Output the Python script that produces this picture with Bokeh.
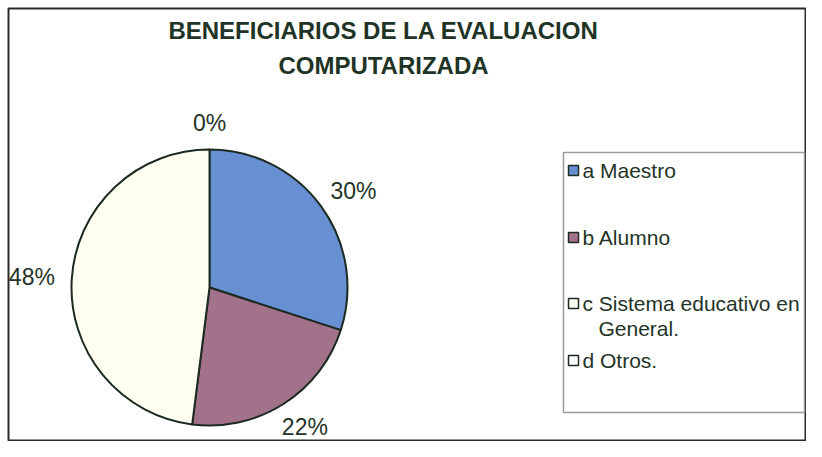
import math
from bokeh.plotting import figure
from bokeh.models import ColumnDataSource, Range1d
from bokeh.core.properties import value
from bokeh.embed import file_html
from bokeh.resources import INLINE

# ---- data ----
title_lines = ["BENEFICIARIOS DE LA EVALUACION", "COMPUTARIZADA"]
categories = ["a Maestro", "b Alumno", "c Sistema educativo en\nGeneral.", "d Otros."]
percents = [30, 22, 48, 0]
colors = ["#6690d2", "#a2728a", "#fffff2", "#ffffff"]

# ---- layout (pixels, 1 data unit = 1 px, pie centre at 0,0) ----
W, H = 806, 441
cx_page, cy_page = 209, 287          # pie centre in picture pixels
R = 138
TXT = "#1f3326"
FONT = value("Liberation Sans")

p = figure(width=W, height=H, output_backend="svg", toolbar_location=None,
           x_range=Range1d(-cx_page, W - cx_page), y_range=Range1d(-(H - cy_page), cy_page),
           min_border=0, tools="")
p.axis.visible = False
p.grid.visible = False
p.outline_line_color = None
p.background_fill_color = "white"
p.border_fill_color = "white"

# chart border
p.quad(left=8 - cx_page, right=W - 1 - cx_page, top=cy_page - 8, bottom=cy_page - (H - 1),
       fill_color=None, line_color="#2a2a2a", line_width=2)

# ---- pie ----
total = float(sum(percents))
starts, ends, fr = [], [], []
cum = 0.0
for v in percents:
    f = v / total
    starts.append(math.pi / 2 - cum * 2 * math.pi)
    ends.append(math.pi / 2 - (cum + f) * 2 * math.pi)
    fr.append((cum, f))
    cum += f

idx = [i for i, v in enumerate(percents) if v > 0]
src = ColumnDataSource(dict(
    start=[starts[i] for i in idx], end=[ends[i] for i in idx],
    color=[colors[i] for i in idx]))
p.wedge(x=0, y=0, radius=R, start_angle="start", end_angle="end", direction="clock",
        fill_color="color", line_color="#1c2a22", line_width=2, source=src)

# ---- percentage labels ----
lx, ly, lt = [], [], []
half_w, half_h, gap_r = 23, 10, R + 17
for (c0, f), v in zip(fr, percents):
    a = (c0 + f / 2) * 2 * math.pi        # clockwise from top
    dx, dy = math.sin(a), math.cos(a)
    lx.append(gap_r * dx + half_w * dx)
    ly.append(gap_r * dy + half_h * dy)
    lt.append(f"{v}%")
p.text(x=lx, y=ly, text=lt, text_align="center", text_baseline="middle",
       text_font=FONT, text_font_size="23px", text_color=TXT)

# ---- title ----
p.text(x=[383 - cx_page] * 2, y=[cy_page - 30, cy_page - 65], text=title_lines,
       text_align="center", text_baseline="middle", text_font=FONT,
       text_font_size="24px", text_font_style="bold", text_color=TXT)

# ---- legend ----
box_l, box_r, box_t, box_b = 563, W - 2, 152, 412   # picture pixels
p.quad(left=box_l - cx_page, right=box_r - cx_page, top=cy_page - box_t, bottom=cy_page - box_b,
       fill_color="white", line_color="#9a9a9a", line_width=1.5)
row_tops = [170, 237, 303, 360]     # picture px of first line in each entry
line_h = 25
for i, (cat, col) in enumerate(zip(categories, colors)):
    yt = cy_page - row_tops[i]
    p.scatter(x=[573 - cx_page], y=[yt], marker="square", size=10,
              fill_color=col, line_color="#1c2a22", line_width=1.5)
    for k, line in enumerate(cat.split("\n")):
        p.text(x=[582 - cx_page + (0 if k == 0 else 16)], y=[yt - k * line_h], text=[line],
               text_align="left", text_baseline="middle", text_font=FONT,
               text_font_size="21px", text_color=TXT)

open("out.html", "w").write(file_html(p, INLINE))
